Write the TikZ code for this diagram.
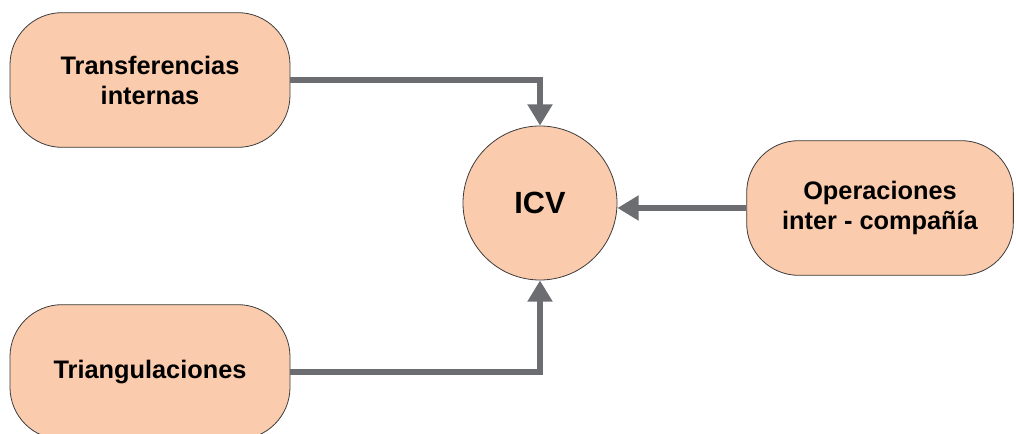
\documentclass[tikz,border=0pt]{standalone}
\usepackage{fontspec}
\setmainfont{Liberation Sans}
\usepackage{xcolor}
\definecolor{peach}{RGB}{250,203,172}
\definecolor{darkgray}{RGB}{108,109,113}
\definecolor{outline}{RGB}{60,60,60}
\usetikzlibrary{arrows.meta}
\newcommand{\widthbox}{210pt}
\newcommand{\heightbox}{101pt}
\tikzset{
    common/.style={draw=outline, fill=peach, line width=0.6pt, align=center,
        font=\fontsize{19}{22.5}\selectfont\bfseries},
    source/.style={common, rectangle, rounded corners=39pt,
        minimum width=\widthbox, minimum height=\heightbox},
    hub/.style={common, circle, minimum size=115.5pt, inner sep=0pt,
        font=\fontsize{23}{26}\selectfont\bfseries},
    flow/.style={darkgray, line width=4.5pt,
        -{Triangle[width=18pt,length=16pt]}}
}

\begin{document}
\begin{tikzpicture}[x=0.75pt, y=-0.75pt]
            \useasboundingbox (0,0) rectangle (1016,434);

            \node[hub] (icv) at (540,203) {ICV};
            \node[source] (transfer) at (150,80) {Transferencias\\internas};
            \node[source, minimum width=200pt] (interco) at (880,208) {Operaciones\\inter - compañía};
            \node[source] (triang) at (150,372) {Triangulaciones};

            \draw[flow] (transfer.east) -| (icv.north);
            \draw[flow] (triang.east) -| (icv.south);
            \draw[flow] (interco.west) -- (interco.west -| icv.east);
          \end{tikzpicture}
\end{document}
